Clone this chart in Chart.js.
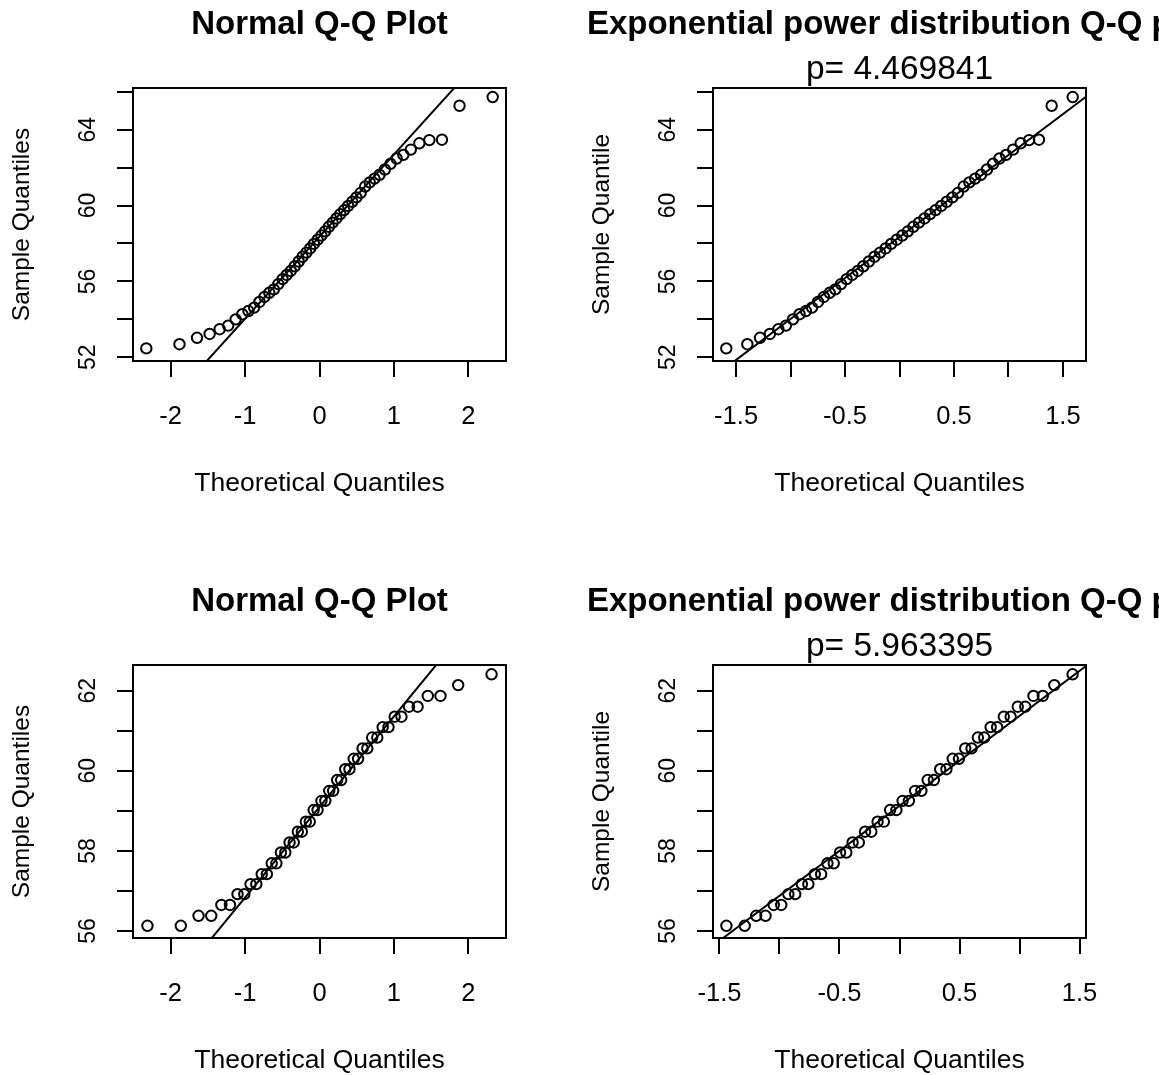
<!DOCTYPE html>
<html>
<head>
<meta charset="utf-8">
<script src="https://cdn.jsdelivr.net/npm/chart.js@4.4.0/dist/chart.umd.min.js"></script>
<style>
html,body{margin:0;padding:0;background:#fff;overflow:hidden;width:1159px;height:1075px;}
#wrap{position:relative;width:1159px;height:1075px;overflow:hidden;background:#fff;}
.pane{position:absolute;width:639px;height:537px;}
.pane canvas{display:block;}
</style>
</head>
<body>
<div id="wrap">
  <div class="pane" style="left:0px;top:0px"><canvas id="c1" width="639" height="537"></canvas></div>
  <div class="pane" style="left:580px;top:0px"><canvas id="c2" width="639" height="537"></canvas></div>
  <div class="pane" style="left:0px;top:577px"><canvas id="c3" width="639" height="537"></canvas></div>
  <div class="pane" style="left:580px;top:577px"><canvas id="c4" width="639" height="537"></canvas></div>
</div>
<script>
// ---------- data ----------
// top row: sorted sample, n = 50
const sampleTop = [52.47,52.69,53.03,53.23,53.48,53.67,54.00,54.27,54.44,54.62,
  54.92,55.18,55.40,55.58,55.86,56.12,56.34,56.55,56.80,57.05,
  57.30,57.52,57.74,57.98,58.20,58.42,58.64,58.88,59.10,59.32,
  59.55,59.76,59.98,60.20,60.43,60.67,61.00,61.22,61.42,61.62,
  61.90,62.20,62.48,62.67,62.95,63.28,63.45,63.47,65.26,65.72];
// theoretical normal quantiles, top-left
const normalQTop = [-2.3263,-1.8808,-1.6449,-1.4758,-1.3408,-1.2265,-1.1264,-1.0364,-0.9542,-0.8779,
  -0.8064,-0.7388,-0.6745,-0.6128,-0.5534,-0.4959,-0.4399,-0.3853,-0.3319,-0.2793,
  -0.2275,-0.1764,-0.1257,-0.0753,-0.0251,0.0251,0.0753,0.1257,0.1764,0.2275,
  0.2793,0.3319,0.3853,0.4399,0.4959,0.5534,0.6128,0.6745,0.7388,0.8064,
  0.8779,0.9542,1.0364,1.1264,1.2265,1.3408,1.4758,1.6449,1.8808,2.3263];
// theoretical exponential power quantiles (p = 4.469841), top-right
const expPowQTop = [-1.5900,-1.3968,-1.2803,-1.1898,-1.1122,-1.0431,-0.9784,-0.9174,-0.8591,-0.8028,
  -0.7480,-0.6942,-0.6413,-0.5890,-0.5370,-0.4854,-0.4340,-0.3829,-0.3317,-0.2806,
  -0.2296,-0.1785,-0.1275,-0.0765,-0.0255,0.0255,0.0765,0.1275,0.1785,0.2296,
  0.2806,0.3317,0.3829,0.4340,0.4854,0.5370,0.5890,0.6413,0.6942,0.7480,
  0.8028,0.8591,0.9174,0.9784,1.0431,1.1122,1.1898,1.2803,1.3968,1.5900];
// bottom row: sorted sample, n = 48
const sampleBottom = [56.13,56.13,56.38,56.38,56.65,56.65,56.92,56.92,57.17,57.17,
  57.42,57.42,57.69,57.69,57.96,57.96,58.21,58.21,58.48,58.48,
  58.73,58.73,59.02,59.02,59.25,59.25,59.50,59.50,59.77,59.77,
  60.04,60.04,60.30,60.30,60.56,60.56,60.83,60.83,61.09,61.09,
  61.35,61.35,61.60,61.60,61.87,61.87,62.14,62.41];
const normalQBottom = [-2.3110,-1.8627,-1.6248,-1.4542,-1.3179,-1.2024,-1.1010,-1.0098,-0.9263,-0.8489,
  -0.7762,-0.7074,-0.6419,-0.5789,-0.5182,-0.4594,-0.4021,-0.3460,-0.2912,-0.2370,
  -0.1836,-0.1309,-0.0784,-0.0261,0.0261,0.0784,0.1309,0.1836,0.2370,0.2912,
  0.3460,0.4021,0.4594,0.5182,0.5789,0.6419,0.7074,0.7762,0.8489,0.9263,
  1.0098,1.1010,1.2024,1.3179,1.4542,1.6248,1.8627,2.3110];
// theoretical exponential power quantiles (p = 5.963395), bottom-right
const expPowQBottom = [-1.4423,-1.2898,-1.1939,-1.1163,-1.0481,-0.9854,-0.9261,-0.8691,-0.8137,-0.7595,
  -0.7059,-0.6529,-0.6002,-0.5478,-0.4954,-0.4432,-0.3910,-0.3389,-0.2867,-0.2346,
  -0.1825,-0.1303,-0.0782,-0.0261,0.0261,0.0782,0.1303,0.1825,0.2346,0.2867,
  0.3389,0.3910,0.4432,0.4954,0.5478,0.6002,0.6529,0.7059,0.7595,0.8137,
  0.8691,0.9261,0.9854,1.0481,1.1163,1.1939,1.2898,1.4423];
// reference lines: [intercept, slope]
const lineTL = [58.36, 4.33];
const lineTR = [58.34, 4.318];
const lineBL = [59.097, 2.262];
const lineBR = [59.125, 2.246];
// ticks
const xTicksNormal = [-2,-1,0,1,2];
const xLabelsNormal = ['-2','-1','0','1','2'];
const xTicksExp = [-1.5,-1,-0.5,0,0.5,1,1.5];
const xLabelsExp = ['-1.5','','-0.5','','0.5','','1.5'];
const yTicksTop = [52,54,56,58,60,62,64,66];
const yLabelsTop = ['52','','56','','60','','64',''];
const yTicksBottom = [56,57,58,59,60,61,62];
const yLabelsBottom = ['56','','58','','60','','62'];
// texts
const titleNormal = 'Normal Q-Q Plot';
const titleExp = 'Exponential power distribution Q-Q plot';
const subTR = 'p= 4.469841';
const subBR = 'p= 5.963395';
const xTitle = 'Theoretical Quantiles';
const yTitleNormal = 'Sample Quantiles';
const yTitleExp = 'Sample Quantile';

// ---------- drawing ----------
const FAM = '"Liberation Sans", Arial, Helvetica, sans-serif';
const INK = '#000';

const boxPlugin = {
  id: 'rbox',
  afterDraw(chart) {
    const {ctx, chartArea: a} = chart;
    ctx.save();
    ctx.strokeStyle = INK;
    ctx.lineWidth = 2;
    ctx.strokeRect(a.left, a.top, a.right - a.left, a.bottom - a.top);
    ctx.restore();
  }
};

function makeChart(id, o) {
  const pts = o.xs.map((x, i) => ({x: x, y: o.ys[i]}));
  const ln = [o.xRange[0], o.xRange[1]].map(x => ({x: x, y: o.line[0] + o.line[1] * x}));
  const hasSub = !!o.sub;
  return new Chart(document.getElementById(id), {
    type: 'scatter',
    data: {
      datasets: [
        {type: 'line', data: ln, borderColor: INK, borderWidth: 2, pointRadius: 0,
         fill: false, clip: 0, xAxisID: 'x', yAxisID: 'y'},
        {type: 'scatter', data: pts, pointStyle: 'circle', pointRadius: 5.2,
         pointBorderWidth: 2, borderColor: INK, backgroundColor: 'rgba(0,0,0,0)',
         pointHoverRadius: 5.2, clip: false, xAxisID: 'x', yAxisID: 'y'}
      ]
    },
    options: {
      responsive: false, animation: false, devicePixelRatio: 1,
      events: [],
      layout: {padding: 0},
      plugins: {
        legend: {display: false},
        tooltip: {enabled: false},
        title: {
          display: true, text: o.title, fullSize: true, align: 'center', color: INK,
          font: {family: FAM, size: 33, weight: 'bold', lineHeight: 1.2},
          padding: {top: 4.8, bottom: hasSub ? 0 : 43.6}
        },
        subtitle: {
          display: hasSub, text: o.sub || '', fullSize: true, align: 'center', color: INK,
          font: {family: FAM, size: 33.5, weight: 'normal', lineHeight: 1.0},
          padding: {top: 8.25, bottom: 1.85}
        }
      },
      scales: {
        x: {
          type: 'linear', position: 'bottom', bounds: 'data',
          min: o.xRange[0], max: o.xRange[1],
          afterBuildTicks: s => { s.ticks = o.xTicks.map(v => ({value: v})); },
          afterFit: s => { s.height = 176; },
          ticks: {autoSkip: false, minRotation: 0, maxRotation: 0, padding: 24.5, color: INK,
                  font: {family: FAM, size: 25.5, lineHeight: 1.2},
                  callback: (v, i) => o.xLabels[i]},
          grid: {drawOnChartArea: false, drawTicks: true, tickLength: 16, color: INK, lineWidth: 2},
          border: {display: false},
          title: {display: true, text: xTitle, color: INK,
                  font: {family: FAM, size: 26.5, lineHeight: 1.2},
                  padding: {top: 0, bottom: 37.8}}
        },
        y: {
          type: 'linear', position: 'left', bounds: 'data',
          min: o.yRange[0], max: o.yRange[1],
          afterBuildTicks: s => { s.ticks = o.yTicks.map(v => ({value: v})); },
          afterFit: s => { s.width = 133; },
          ticks: {autoSkip: false, minRotation: 90, maxRotation: 90, crossAlign: 'center',
                  padding: 15.5, color: INK,
                  font: {family: FAM, size: 23, lineHeight: 1.2},
                  callback: (v, i) => o.yLabels[i]},
          grid: {drawOnChartArea: false, drawTicks: true, tickLength: 16, color: INK, lineWidth: 2},
          border: {display: false},
          title: {display: true, text: o.yTitle, color: INK,
                  font: {family: FAM, size: 24.5, lineHeight: 1.2},
                  padding: {top: 7.6, bottom: 0}}
        },
        yr: {
          type: 'linear', position: 'right', display: true,
          afterFit: s => { s.width = 133; },
          grid: {display: false}, ticks: {display: false}, border: {display: false}
        }
      }
    },
    plugins: [boxPlugin]
  });
}

makeChart('c1', {xs: normalQTop, ys: sampleTop, line: lineTL, xRange: [-2.505, 2.505], yRange: [51.805, 66.196],
  xTicks: xTicksNormal, xLabels: xLabelsNormal, yTicks: yTicksTop, yLabels: yLabelsTop,
  title: titleNormal, sub: null, yTitle: yTitleNormal});
makeChart('c2', {xs: expPowQTop, ys: sampleTop, line: lineTR, xRange: [-1.712, 1.712], yRange: [51.805, 66.196],
  xTicks: xTicksExp, xLabels: xLabelsExp, yTicks: yTicksTop, yLabels: yLabelsTop,
  title: titleExp, sub: subTR, yTitle: yTitleExp});
makeChart('c3', {xs: normalQBottom, ys: sampleBottom, line: lineBL, xRange: [-2.505, 2.505], yRange: [55.825, 62.642],
  xTicks: xTicksNormal, xLabels: xLabelsNormal, yTicks: yTicksBottom, yLabels: yLabelsBottom,
  title: titleNormal, sub: null, yTitle: yTitleNormal});
makeChart('c4', {xs: expPowQBottom, ys: sampleBottom, line: lineBR, xRange: [-1.554, 1.554], yRange: [55.825, 62.642],
  xTicks: xTicksExp, xLabels: xLabelsExp, yTicks: yTicksBottom, yLabels: yLabelsBottom,
  title: titleExp, sub: subBR, yTitle: yTitleExp});
</script>
</body>
</html>
